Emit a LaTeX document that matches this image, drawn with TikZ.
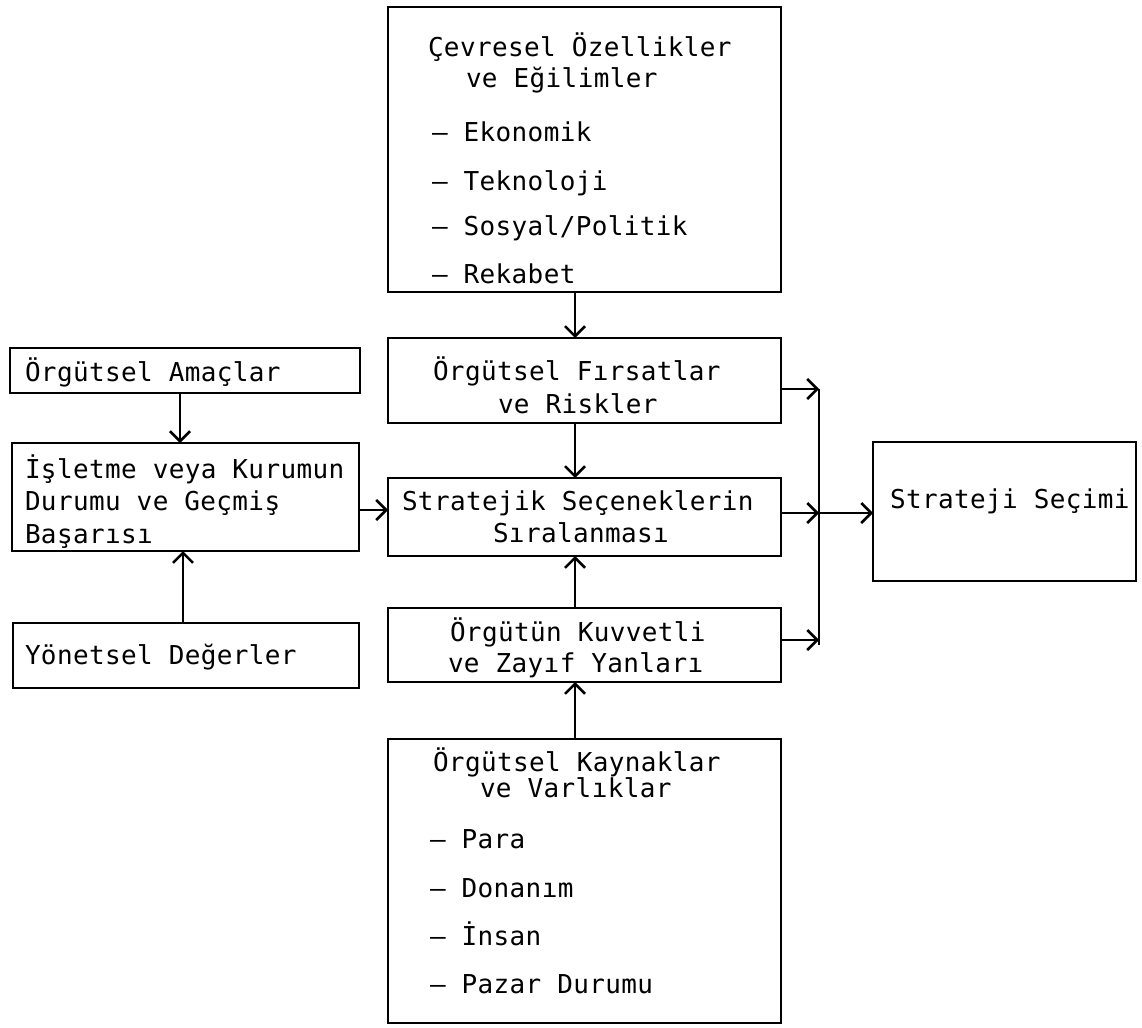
\documentclass[tikz,border=0pt]{standalone}
\usepackage{fontspec}
\usetikzlibrary{arrows.meta}
\newfontfamily\tw[LetterSpace=1.4]{DejaVu Sans Mono}

\tikzset{
  box/.style={draw, line width=2.6pt, rectangle, inner sep=0pt, outer sep=0pt, anchor=north west},
  txt/.style={anchor=base west, inner sep=0pt, outer sep=0pt, font=\tw\fontsize{26}{30}\selectfont},
  arr/.style={line width=2.5pt, -{Straight Barb[length=10pt,width=20pt]}},
  bus/.style={line width=2.5pt}
}

\begin{document}
\begin{tikzpicture}[x=1pt,y=-1pt]
\fill[white] (0,0) rectangle (1142,1027);
\useasboundingbox (0,0) rectangle (1142,1027);

% centre column
\node[box, minimum width=393pt, minimum height=285pt] (cev) at (388,7) {};
\node[box, minimum width=393pt, minimum height=85pt]  (fir) at (388,338) {};
\node[box, minimum width=393pt, minimum height=78pt]  (str) at (388,478) {};
\node[box, minimum width=393pt, minimum height=74pt]  (kuv) at (388,608) {};
\node[box, minimum width=393pt, minimum height=284pt] (kay) at (388,739) {};

% left column
\node[box, minimum width=350pt, minimum height=45pt]  (ama) at (10,348) {};
\node[box, minimum width=347pt, minimum height=108pt] (isl) at (12,443) {};
\node[box, minimum width=346pt, minimum height=65pt]  (yon) at (13,623) {};

% right box
\node[box, minimum width=263pt, minimum height=139pt] (sec) at (873,442) {};

% texts
\node[txt] (c1) at (428,57)  {Çevresel Özellikler};
\node[txt] (c2) at (466,88)  {ve Eğilimler};
\node[txt] (c3) at (432,142) {– Ekonomik};
\node[txt] (c4) at (432,190) {– Teknoloji};
\node[txt] (c5) at (432,235) {– Sosyal/Politik};
\node[txt] (c6) at (432,283) {– Rekabet};

\node[txt] (f1) at (433,380) {Örgütsel Fırsatlar};
\node[txt] (f2) at (498,413) {ve Riskler};

\node[txt] (s1) at (402,510) {Stratejik Seçeneklerin};
\node[txt] (s2) at (493,542) {Sıralanması};

\node[txt] (k1) at (450,641) {Örgütün Kuvvetli};
\node[txt] (k2) at (448,672) {ve Zayıf Yanları};

\node[txt] (v1) at (433,771) {Örgütsel Kaynaklar};
\node[txt] (v2) at (480,797) {ve Varlıklar};
\node[txt] (v3) at (430,848) {– Para};
\node[txt] (v4) at (430,897) {– Donanım};
\node[txt] (v5) at (430,945) {– İnsan};
\node[txt] (v6) at (430,993) {– Pazar Durumu};

\node[txt] (a1) at (25,381) {Örgütsel Amaçlar};
\node[txt] (i1) at (25,478) {İşletme veya Kurumun};
\node[txt] (i2) at (25,510) {Durumu ve Geçmiş};
\node[txt] (i3) at (25,543) {Başarısı};
\node[txt] (y1) at (25,664) {Yönetsel Değerler};

\node[txt] (e1) at (890,508) {Strateji Seçimi};

% reference positions for connectors
\coordinate (mx) at (575,0);
\coordinate (lxa) at (180,0);
\coordinate (lxb) at (183,0);
\coordinate (iy) at (0,510);
\coordinate (bf) at (819,389);
\coordinate (bs) at (819,513);
\coordinate (bk) at (819,640);
\coordinate (bend) at (819,645);

% centre column arrows
\draw[arr] (cev.south -| mx) -- (fir.north -| mx);
\draw[arr] (fir.south -| mx) -- (str.north -| mx);
\draw[arr] (kuv.north -| mx) -- (str.south -| mx);
\draw[arr] (kay.north -| mx) -- (kuv.south -| mx);

% left column arrows
\draw[arr] (ama.south -| lxa) -- (isl.north -| lxa);
\draw[arr] (yon.north -| lxb) -- (isl.south -| lxb);
\draw[arr] (isl.east |- iy) -- (str.west |- iy);

% collecting line on the right
\draw[bus] (bf) -- (bend);
\draw[arr] (fir.east |- bf) -- (bf);
\draw[arr] (str.east |- bs) -- (bs);
\draw[arr] (kuv.east |- bk) -- (bk);
\draw[arr] (bs) -- (sec.west |- bs);
\end{tikzpicture}
\end{document}
